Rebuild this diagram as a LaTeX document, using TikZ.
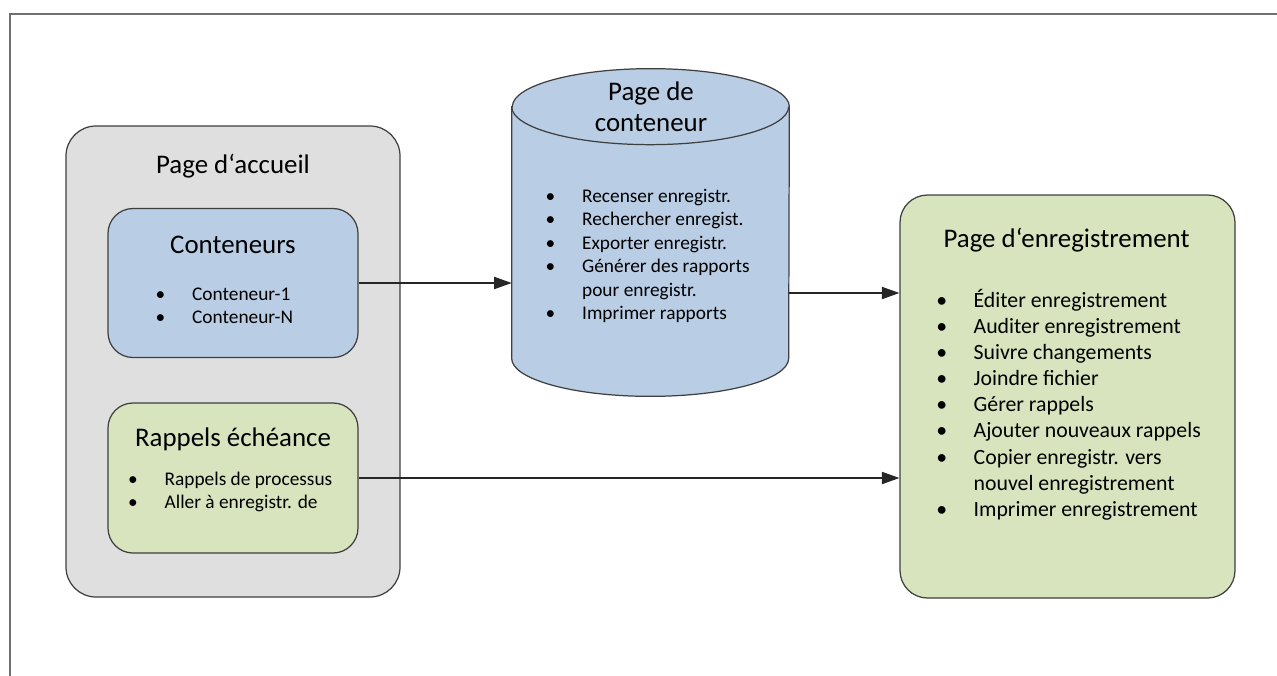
\documentclass[tikz,border=0pt]{standalone}
\usepackage{fontspec}
\setmainfont{Carlito}
\usetikzlibrary{arrows.meta,calc}
\definecolor{homeGray}{HTML}{DFDFDF}
\definecolor{contBlue}{HTML}{B9CDE5}
\definecolor{recGreen}{HTML}{D7E4BD}
\definecolor{edgeGray}{HTML}{3F3F3F}
\definecolor{frameGray}{HTML}{707070}
\newcommand{\puce}{\makebox[18.1pt][l]{\makebox[0pt]{\textbullet}}}

\begin{document}
\begin{tikzpicture}[
  >={Triangle[length=10pt,width=7pt]},
  every node/.style={inner sep=0pt},
  box/.style={draw=edgeGray, line width=0.7pt, rounded corners=0.55cm},
  titre/.style={font=\fontsize{15.3}{18.2}\selectfont, anchor=base},
  petit/.style={font=\fontsize{11}{13.2}\selectfont, anchor=base west},
  grand/.style={font=\fontsize{12.4}{14.9}\selectfont, anchor=base west},
  fleche/.style={->, line width=0.6pt, black!85}
]
  \useasboundingbox (0,0) rectangle (25.54,-13.5);

  % Frame (top and left edges only)
  \draw[frameGray, line width=1.2pt] (0.20,-13.6) -- (0.20,-0.28) -- (25.7,-0.28);

  % Home page
  \node[box, fill=homeGray, minimum width=6.68cm, minimum height=9.42cm,
        rounded corners=0.6cm] (accueil) at (4.66,-7.23) {};
  \node[titre] (accTitle) at (4.66,-3.46) {Page d‘accueil};

  % Containers
  \node[box, fill=contBlue, minimum width=5.0cm, minimum height=2.98cm,
        rounded corners=0.5cm] (cont) at (4.66,-5.66) {};
  \node[titre] (contTitle) at (4.66,-5.06) {Conteneurs};
  \node[petit] (contList) at (3.20,-6.00)
    {\begin{tabular}[t]{@{}l@{}}\puce Conteneur-1\\ \puce Conteneur-N\end{tabular}};

  % Due reminders
  \node[box, fill=recGreen, minimum width=5.0cm, minimum height=3.0cm,
        rounded corners=0.5cm] (rap) at (4.66,-9.56) {};
  \node[titre] (rapTitle) at (4.66,-8.92) {Rappels échéance};
  \node[petit] (rapList) at (2.65,-9.70)
    {\begin{tabular}[t]{@{}l@{}}\puce Rappels de processus\\ \puce Aller à enregistr. de\end{tabular}};

  % Container page (cylinder drawn round its body node)
  \node[minimum width=5.54cm, minimum height=5.02cm] (cyl) at (13.01,-4.65) {};
  \filldraw[fill=contBlue, draw=edgeGray, line width=0.7pt]
    (cyl.north west) -- (cyl.south west)
    arc[start angle=180, end angle=360, x radius=2.77cm, y radius=0.76cm]
    -- (cyl.north east)
    arc[start angle=0, end angle=180, x radius=2.77cm, y radius=0.76cm] -- cycle;
  \draw[edgeGray, line width=0.7pt] (cyl.north west)
    arc[start angle=180, end angle=360, x radius=2.77cm, y radius=0.76cm];
  \node[titre] (cylTitle) at (13.02,-2.00)
    {\begin{tabular}[t]{@{}c@{}}Page de\\ conteneur\end{tabular}};
  \node[petit, font=\fontsize{11}{13.4}\selectfont] (cylList) at (11.00,-4.04)
    {\begin{tabular}[t]{@{}l@{}}
      \puce Recenser enregistr.\\
      \puce Rechercher enregist.\\
      \puce Exporter enregistr.\\
      \puce Générer des rapports\\
      \hspace*{18.1pt}pour enregistr.\\
      \puce Imprimer rapports
    \end{tabular}};

  % Record page
  \node[box, fill=recGreen, minimum width=6.7cm, minimum height=8.06cm] (enr) at (21.35,-7.93) {};
  \node[titre] (enrTitle) at (21.33,-4.94) {Page d‘enregistrement};
  \node[grand] (enrList) at (18.83,-6.14)
    {\begin{tabular}[t]{@{}l@{}}
      \puce Éditer enregistrement\\
      \puce Auditer enregistrement\\
      \puce Suivre changements\\
      \puce Joindre fichier\\
      \puce Gérer rappels\\
      \puce Ajouter nouveaux rappels\\
      \puce Copier enregistr. vers\\
      \hspace*{18.1pt}nouvel enregistrement\\
      \puce Imprimer enregistrement
    \end{tabular}};

  % Connectors
  \draw[fleche] (cont.east) -- (cont.east -| cyl.west);
  \coordinate (sortie) at ($(cyl.east)+(0,-1.21)$);
  \draw[fleche] (sortie) -- (sortie -| enr.west);
  \draw[fleche] (rap.east) -- (rap.east -| enr.west);
\end{tikzpicture}
\end{document}
